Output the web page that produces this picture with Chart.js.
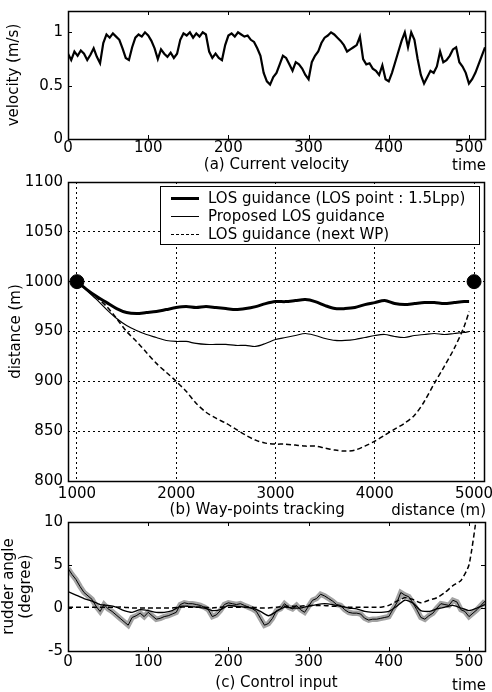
<!DOCTYPE html>
<html>
<head>
<meta charset="utf-8">
<script src="https://cdn.jsdelivr.net/npm/chart.js@4.4.0/dist/chart.umd.min.js"></script>
<style>
body { margin:0; background:#fff; width:492px; height:692px; overflow:hidden; position:relative; font-family:"DejaVu Sans", Arial, sans-serif; color:#000; }
canvas { position:absolute; left:0; }
.cap { position:absolute; right:6px; font-size:15px; line-height:16px; }
#legend { position:absolute; left:160px; top:186px; width:318px; height:57px; border:1px solid #000; background:#fff; font-size:15px; }
#legend div { position:absolute; left:47px; line-height:16px; white-space:nowrap; }
#legend span { position:absolute; left:-37px; top:8px; width:28px; border-top:1px solid #000; }
</style>
</head>
<body>
<canvas id="chartA" width="492" height="176" style="top:0px"></canvas>
<canvas id="chartB" width="492" height="350" style="top:170px"></canvas>
<canvas id="chartC" width="492" height="182" style="top:510px"></canvas>

<div class="cap" style="top:157px">time</div>
<div class="cap" style="top:502px">distance (m)</div>
<div class="cap" style="top:677px">time</div>

<div id="legend">
  <div style="top:3px"><span style="border-top:3px solid #000;top:7px"></span>LOS guidance (LOS point : 1.5Lpp)</div>
  <div style="top:21px"><span></span>Proposed LOS guidance</div>
  <div style="top:39px"><span style="border-top:1.5px dashed #000"></span>LOS guidance (next WP)</div>
</div>

<script>
// (a) current velocity, sampled every 4 s
var velTime = [];
for (var t = 0; t <= 520; t += 4) velTime.push(t);
var velocity = [0.80,0.74,0.82,0.78,0.83,0.80,0.74,0.79,0.85,0.77,0.71,0.90,0.98,0.95,0.99,0.96,0.93,0.85,0.76,0.74,
  0.86,0.95,0.98,0.96,1.00,0.97,0.92,0.85,0.75,0.84,0.80,0.77,0.81,0.76,0.80,0.93,0.99,0.97,1.00,0.95,
  0.99,0.96,1.00,0.98,0.82,0.76,0.80,0.76,0.74,0.88,0.97,0.99,0.96,1.00,0.98,0.96,0.97,0.93,0.91,0.85,
  0.78,0.62,0.54,0.51,0.58,0.62,0.70,0.78,0.76,0.70,0.64,0.72,0.70,0.66,0.60,0.56,0.72,0.78,0.82,0.90,
  0.95,0.97,1.00,0.98,0.95,0.92,0.88,0.82,0.84,0.86,0.88,0.96,0.75,0.70,0.71,0.66,0.64,0.60,0.69,0.56,
  0.54,0.62,0.72,0.82,0.92,1.00,0.86,1.00,0.93,0.75,0.60,0.52,0.58,0.64,0.62,0.68,0.82,0.72,0.74,0.78,
  0.84,0.86,0.72,0.68,0.62,0.52,0.56,0.62,0.70,0.78,0.86];
var timeTicks = [0, 100, 200, 300, 400, 500];
var velTicks = [0, 0.5, 1];

// (b) way-points tracking
var trackX = [1000,1100,1200,1300,1400,1500,1600,1700,1800,1900,2000,2100,2200,2300,2400,2500,2600,2700,2800,2900,
  3000,3100,3200,3300,3400,3500,3600,3700,3800,3900,4000,4100,4200,4300,4400,4500,4600,4700,4800,4900,4950];
var losPoint = [1000,992,985,979,973,969,968,969,970,972,974,975,974,975,974,973,972,973,975,978,
  980,980,981,982,980,976,973,973,974,977,979,981,978,977,978,979,979,978,979,980,980];
var proposed = [1000,991,982,972,963,956,951,947,944,941,940,940,938,937,937,937,936,936,935,938,
  942,944,946,948,946,943,941,941,942,944,946,947,945,944,946,947,948,947,948,949,950];
var nextWP = [1000,992,984,975,963,950,940,929,918,909,900,890,878,869,863,858,852,846,841,838,
  837,837,836,835,835,833,831,830,831,835,840,846,852,858,866,880,898,915,933,955,970];
var wayPointX = [1000, 5000];
var wayPointY = [1000, 1000];
var distTicksX = [1000, 2000, 3000, 4000, 5000];
var distTicksY = [800, 850, 900, 950, 1000, 1050, 1100];

// (c) control input
var rudderTime = [];
for (var t = 0; t <= 520; t += 5) rudderTime.push(t);
var rudderLos = [4.6,3.9,3.3,2.5,1.8,1.4,1.0,0.2,-0.4,0.4,-0.1,-0.4,-0.8,-1.2,-1.6,-2.0,-1.1,-0.9,-0.6,-1.0,
  -0.5,-0.9,-1.3,-1.2,-1.0,-0.9,-0.7,-0.5,0.4,0.6,0.5,0.5,0.4,0.3,0.1,-0.2,-1.0,-0.8,-0.3,0.4,
  0.6,0.5,0.4,0.5,0.3,0.1,-0.1,-0.4,-1.2,-2.0,-1.8,-1.2,-0.3,-0.1,0.5,0.1,-0.1,0.3,-0.2,-0.5,
  0.2,0.9,1.1,1.6,1.4,1.1,0.8,0.4,0.3,-0.2,-0.5,-0.6,-0.6,-0.7,-1.2,-1.4,-1.3,-1.3,-1.2,-1.1,
  -1.0,-0.2,0.6,1.8,1.5,1.3,0.6,-0.2,-1.1,-1.3,-0.9,-0.6,0.0,0.5,0.4,0.3,0.9,0.7,-0.2,-0.4,
  -1.0,-0.6,-0.2,0.3,0.8];
var smoothTime = [];
for (var t = 0; t <= 520; t += 10) smoothTime.push(t);
var rudderProposed = [1.9,1.5,1.1,0.8,0.4,0.3,0.1,-0.3,-0.5,-0.2,-0.3,-0.5,-0.5,-0.3,0.2,0.2,0.1,0.0,-0.3,-0.2,
  0.3,0.2,0.1,0.0,-0.4,-0.9,-0.4,0.1,0.0,0.0,0.2,0.4,0.5,0.4,0.2,0.0,-0.1,-0.4,-0.5,-0.5,
  -0.4,0.2,0.9,0.6,-0.3,-0.4,-0.1,0.1,0.3,0.0,-0.3,0.0,0.4];
var rudderNextWP = [0.1,0.1,0.1,0.1,0.1,0.1,0.1,0.1,0.0,0.0,0.0,0.0,0.0,0.0,0.1,0.1,0.1,0.1,0.0,0.1,
  0.1,0.1,0.1,0.1,0.0,0.0,0.1,0.2,0.2,0.2,0.3,0.3,0.3,0.2,0.2,0.1,0.1,0.1,0.1,0.1,
  0.3,0.8,1.2,1.0,0.6,0.9,1.2,1.8,2.6,3.2,5.0,11.0,18.0];
var rudderTicks = [-5, 0, 5, 10];

function pairs(xs, ys) {
  return xs.map(function(x, i) { return {x: x, y: ys[i]}; });
}
function plain(v) { return String(v); }

Chart.defaults.font.family = '"DejaVu Sans", Arial, sans-serif';
Chart.defaults.font.size = 15;
Chart.defaults.color = '#000';

// box round the plot plus inward tick marks, MATLAB style
var framePlugin = {
  id: 'frame',
  afterDatasetsDraw: function(chart, args, opts) {
    var ctx = chart.ctx, a = chart.chartArea;
    var xs = chart.scales.x, ys = chart.scales.y;
    var len = opts.tick || 0;
    ctx.save();
    ctx.strokeStyle = '#000';
    ctx.lineWidth = 1;
    ctx.beginPath();
    if (len) {
      xs.ticks.forEach(function(tk, i) {
        var px = Math.round(xs.getPixelForTick(i)) + 0.5;
        ctx.moveTo(px, a.bottom); ctx.lineTo(px, a.bottom - len);
        ctx.moveTo(px, a.top); ctx.lineTo(px, a.top + len);
      });
      ys.ticks.forEach(function(tk, i) {
        var py = Math.round(ys.getPixelForTick(i)) + 0.5;
        ctx.moveTo(a.left, py); ctx.lineTo(a.left + len, py);
        ctx.moveTo(a.right, py); ctx.lineTo(a.right - len, py);
      });
    }
    ctx.stroke();
    ctx.lineWidth = 1.5;
    ctx.strokeRect(Math.round(a.left) + 0.5, Math.round(a.top) + 0.5, Math.round(a.width), Math.round(a.height));
    ctx.restore();
  }
};

function fixedTicks(values) {
  return function(s) { s.ticks = values.map(function(v) { return {value: v}; }); };
}
function xAxis(min, max, tickValues, title, h, tickPad, titlePad) {
  return {
    type: 'linear', min: min, max: max,
    afterBuildTicks: fixedTicks(tickValues),
    ticks: { padding: tickPad, maxRotation: 0, autoSkip: false, callback: plain },
    grid: { display: false, drawTicks: false },
    border: { display: false },
    title: { display: true, text: title, padding: { top: 0, bottom: titlePad } },
    afterFit: function(s) { s.height = h; s.paddingLeft = 0; s.paddingRight = 0; }
  };
}
function yAxis(min, max, tickValues, title, titlePad) {
  return {
    min: min, max: max,
    afterBuildTicks: fixedTicks(tickValues),
    ticks: { padding: 5, autoSkip: false, callback: plain },
    grid: { display: false, drawTicks: false },
    border: { display: false },
    title: { display: true, text: title, padding: { top: titlePad, bottom: 0 }, font: { lineHeight: 1.1 } },
    afterFit: function(s) { s.width = 68; s.paddingTop = 0; s.paddingBottom = 0; }
  };
}
var baseOpts = {
  responsive: false,
  animation: false,
  events: [],
  plugins: { legend: { display: false }, tooltip: { enabled: false }, frame: { tick: 4 } }
};

// (a)
new Chart(document.getElementById('chartA'), {
  type: 'line',
  data: { datasets: [{
    data: pairs(velTime, velocity),
    borderColor: '#000', borderWidth: 2.2, pointRadius: 0, tension: 0
  }] },
  options: Object.assign({}, baseOpts, {
    layout: { padding: { top: 11, right: 7, left: 0, bottom: 0 } },
    scales: {
      x: xAxis(0, 520, timeTicks, '(a) Current velocity', 37, 0, 2),
      y: yAxis(0, 1.2, velTicks, 'velocity (m/s)', 6)
    }
  }),
  plugins: [framePlugin]
});

// (b)
var optsB = Object.assign({}, baseOpts, {
  layout: { padding: { top: 12, right: 7, left: 0, bottom: 0 } },
  scales: {
    x: xAxis(910, 5100, distTicksX, '(b) Way-points tracking\u2003\u2003\u2002', 39, 4, 1),
    y: yAxis(800, 1100, distTicksY, 'distance (m)', 8)
  }
});
optsB.plugins = Object.assign({}, baseOpts.plugins, { frame: { tick: 0 } });
optsB.scales.x.grid = { display: true, drawTicks: false, color: '#000', lineWidth: 1 };
optsB.scales.x.border = { display: false, dash: [2, 3] };
optsB.scales.y.grid = { display: true, drawTicks: false, color: '#000', lineWidth: 1 };
optsB.scales.y.border = { display: false, dash: [2, 3] };

new Chart(document.getElementById('chartB'), {
  type: 'line',
  data: { datasets: [
    { type: 'scatter', data: pairs(wayPointX, wayPointY), pointRadius: 7, pointBackgroundColor: '#000', pointBorderColor: '#000', showLine: false },
    { data: pairs(trackX, losPoint), borderColor: '#000', borderWidth: 3, pointRadius: 0, tension: 0.3 },
    { data: pairs(trackX, proposed), borderColor: '#000', borderWidth: 1.2, pointRadius: 0, tension: 0.3 },
    { data: pairs(trackX, nextWP), borderColor: '#000', borderWidth: 1.5, borderDash: [5, 3], pointRadius: 0, tension: 0.3 }
  ] },
  options: optsB,
  plugins: [framePlugin]
});

// (c)
new Chart(document.getElementById('chartC'), {
  type: 'line',
  data: { datasets: [
    { data: pairs(smoothTime, rudderNextWP), borderColor: '#000', borderWidth: 1.5, borderDash: [5, 3], pointRadius: 0, tension: 0.2 },
    { data: pairs(smoothTime, rudderProposed), borderColor: '#000', borderWidth: 1.3, pointRadius: 0, tension: 0.2 },
    { data: pairs(rudderTime, rudderLos), borderColor: '#000', borderWidth: 1, pointRadius: 0, tension: 0 },
    { data: pairs(rudderTime, rudderLos), borderColor: '#a3a3a3', borderWidth: 5.5, pointRadius: 0, tension: 0 }
  ] },
  options: Object.assign({}, baseOpts, {
    layout: { padding: { top: 12, right: 7, left: 0, bottom: 0 } },
    scales: {
      x: xAxis(0, 520, timeTicks, '(c) Control input', 41, 2, 0),
      y: yAxis(-5, 10, rudderTicks, ['rudder angle', '(degree)'], 1)
    }
  }),
  plugins: [framePlugin]
});
</script>
</body>
</html>
